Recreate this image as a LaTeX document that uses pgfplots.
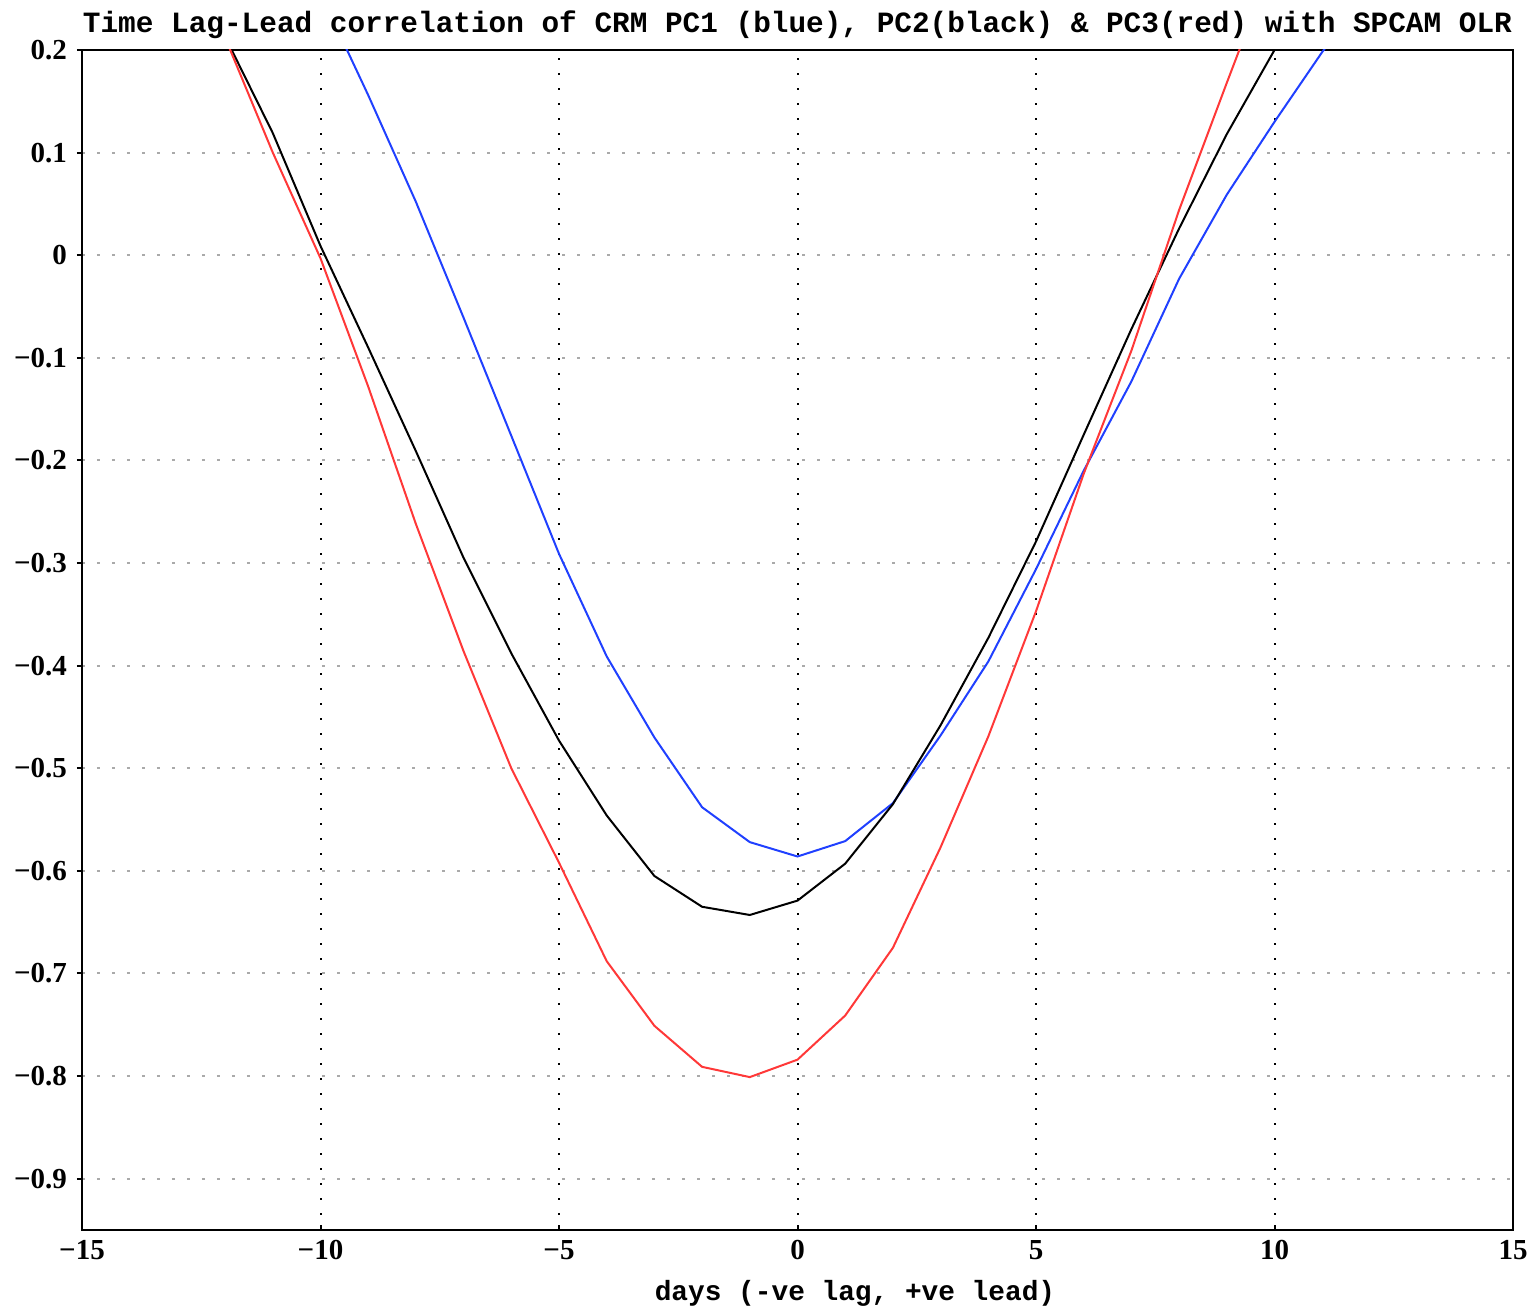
\documentclass[border=0pt]{standalone}
\usepackage{fontspec}
\setmainfont{Liberation Serif}
\newfontfamily\monof{Liberation Mono}
\usepackage{pgfplots}
\pgfplotsset{compat=1.18}
\usepackage{pgfplotstable}
\definecolor{cblue}{RGB}{32,64,255}
\definecolor{cred}{RGB}{255,56,56}
\definecolor{cgrid}{RGB}{170,170,170}

\pgfplotstableread{
x y
-10 0.255
-9 0.156
-8 0.052
-7 -0.061
-6 -0.176
-5 -0.291
-4 -0.391
-3 -0.470
-2 -0.538
-1 -0.572
0 -0.586
1 -0.571
2 -0.534
3 -0.468
4 -0.396
5 -0.306
6 -0.210
7 -0.123
8 -0.023
9 0.059
10 0.130
11 0.198
12 0.260
}\pcone

\pgfplotstableread{
x y
-12 0.213
-11 0.119
-10 0.009
-9 -0.090
-8 -0.191
-7 -0.295
-6 -0.388
-5 -0.473
-4 -0.546
-3 -0.605
-2 -0.635
-1 -0.643
0 -0.629
1 -0.593
2 -0.535
3 -0.458
4 -0.373
5 -0.279
6 -0.175
7 -0.072
8 0.026
9 0.118
10 0.200
11 0.280
}\pctwo

\pgfplotstableread{
x y
-12 0.212
-11 0.100
-10 -0.003
-9 -0.128
-8 -0.262
-7 -0.386
-6 -0.500
-5 -0.592
-4 -0.688
-3 -0.751
-2 -0.791
-1 -0.801
0 -0.784
1 -0.741
2 -0.675
3 -0.577
4 -0.469
5 -0.347
6 -0.213
7 -0.093
8 0.044
9 0.168
10 0.290
}\pcthree

\begin{document}
\begin{tikzpicture}
\begin{axis}[
  scale only axis,
  width=715.5bp, height=590bp,
  xmin=-15, xmax=15, ymin=-0.95, ymax=0.2,
  xtick={-15,-10,-5,0,5,10,15},
  xticklabels={−15,−10,−5,0,5,10,15},
  ytick={-0.9,-0.8,-0.7,-0.6,-0.5,-0.4,-0.3,-0.2,-0.1,0,0.1,0.2},
  yticklabels={−0.9,−0.8,−0.7,−0.6,−0.5,−0.4,−0.3,−0.2,−0.1,0,0.1,0.2},
  xtick pos=left, ytick pos=left,
  tick align=outside,
  major tick length=2.5bp,
  tick style={line width=1bp, black},
  xtick style={yshift=2.5bp},
  axis line style={line width=1bp, black},
  ticklabel style={font=\fontsize{14.5bp}{16bp}\selectfont\bfseries},
  yticklabel style={xshift=-1.5bp},
  xticklabel style={yshift=1bp},
  ymajorgrids,
  major grid style={cgrid, line width=1bp, dash pattern=on 1.5bp off 6bp},
  extra x ticks={-10,-5,0,5,10},
  extra x tick labels={,,,,},
  extra x tick style={grid=major, major grid style={black, line width=1bp, dash pattern=on 1bp off 6.5bp}},
  clip=true,
]
\addplot[cblue, line width=1bp] table[x=x,y=y] {\pcone};
\addplot[black, line width=1bp] table[x=x,y=y] {\pctwo};
\addplot[cred, line width=1bp] table[x=x,y=y] {\pcthree};
\end{axis}
\node[anchor=base, yshift=8.5bp, font=\monof\bfseries\fontsize{14.7bp}{16bp}\selectfont] at (current axis.north)
  {Time Lag-Lead correlation of CRM PC1 (blue), PC2(black) \& PC3(red) with SPCAM OLR};
\node[anchor=base, xshift=28.75bp, yshift=-35bp, font=\monof\bfseries\fontsize{13.9bp}{16bp}\selectfont] at (current axis.south)
  {days (-ve lag, +ve lead)};
\pgfresetboundingbox
\path[use as bounding box] ([shift={(-41bp,-42bp)}]current axis.south west) rectangle ([shift={(11.5bp,25bp)}]current axis.north east);
\end{tikzpicture}
\end{document}
